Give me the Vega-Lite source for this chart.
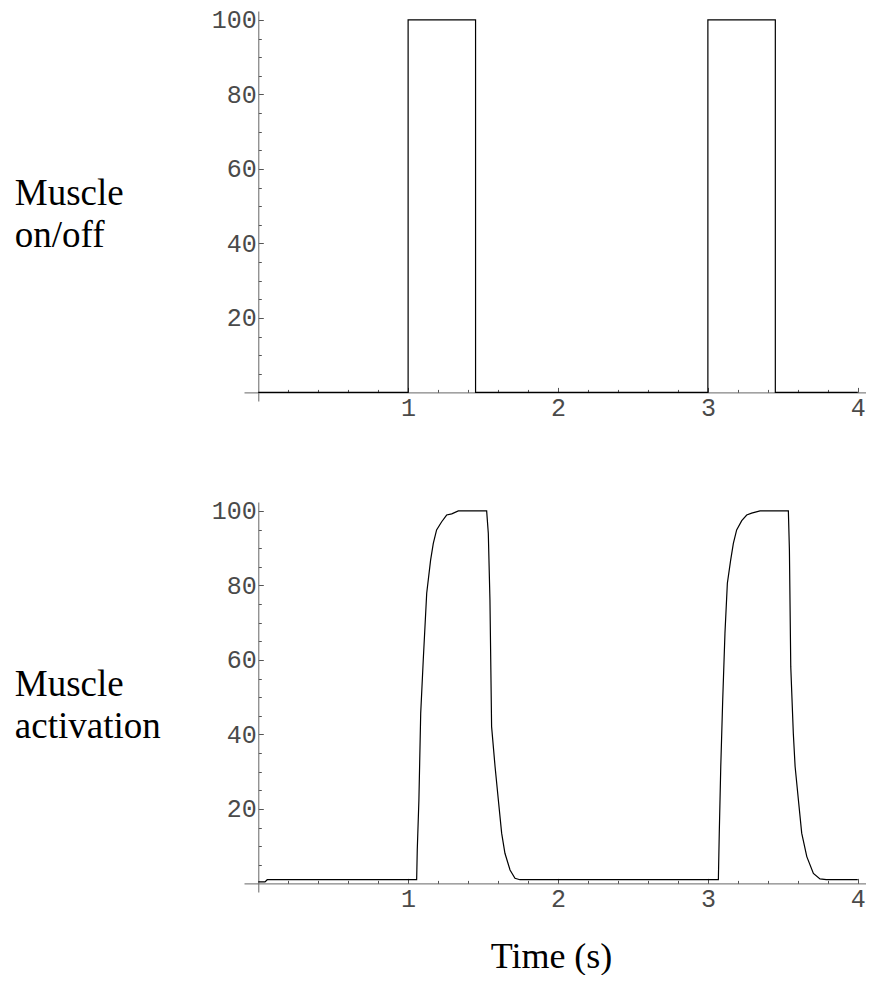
{
  "$schema": "https://vega.github.io/schema/vega-lite/v6.json",
  "background": "white",
  "padding": {"left": 14, "top": 7, "right": 0, "bottom": 0},
  "spacing": 101,
  "bounds": "flush",
  "config": {
    "view": {"stroke": null},
    "axis": {
      "grid": false,
      "domainColor": "#666666",
      "domainWidth": 1,
      "tickColor": "#555555",
      "tickWidth": 1,
      "labelFont": "Liberation Mono",
      "labelFontSize": 25,
      "labelColor": "#4a4a4a",
      "labelOverlap": false,
      "labelFlush": false,
      "labelBound": false
    }
  },
  "vconcat": [
    {
      "width": 622,
      "height": 390,
      "data": {
        "values": [
          {"i": 0, "t": 0, "v": 0},
          {"i": 1, "t": 1, "v": 0},
          {"i": 2, "t": 1, "v": 100},
          {"i": 3, "t": 1.45, "v": 100},
          {"i": 4, "t": 1.45, "v": 0},
          {"i": 5, "t": 3, "v": 0},
          {"i": 6, "t": 3, "v": 100},
          {"i": 7, "t": 3.45, "v": 100},
          {"i": 8, "t": 3.45, "v": 0},
          {"i": 9, "t": 4, "v": 0}
        ]
      },
      "mark": {"type": "line", "color": "black", "strokeWidth": 1.2},
      "encoding": {
        "order": {"field": "i", "type": "quantitative"},
        "x": {
          "field": "t", "type": "quantitative",
          "scale": {"domain": [-0.095, 4.055], "nice": false, "zero": false},
          "axis": {
            "title": null,
            "offset": -8.6,
            "values": [0.2,0.4,0.6,0.8,1,1.2,1.4,1.6,1.8,2,2.2,2.4,2.6,2.8,3,3.2,3.4,3.6,3.8,4],
            "labelExpr": "datum.value % 1 === 0 ? format(datum.value, 'd') : ''",
            "tickSize": {"condition": {"test": "datum.value % 1 === 0", "value": -5}, "value": -3},
            "labelPadding": 8
          }
        },
        "y": {
          "field": "v", "type": "quantitative",
          "scale": {"domain": [-2.3, 102.4], "nice": false, "zero": false},
          "axis": {
            "offset": -14.3,
            "values": [5,10,15,20,25,30,35,40,45,50,55,60,65,70,75,80,85,90,95,100],
            "labelExpr": "datum.value % 20 === 0 ? format(datum.value, 'd') : ''",
            "tickSize": {"condition": {"test": "datum.value % 20 === 0", "value": -5}, "value": -3},
            "labelPadding": 7,
            "title": ["Muscle", "on/off"],
            "titleAngle": 0,
            "titleAlign": "left",
            "titleBaseline": "alphabetic",
            "titleX": -244,
            "titleY": 193,
            "titleFont": "Liberation Serif",
            "titleFontSize": 37,
            "titleFontWeight": "normal",
            "titleLineHeight": 42.7,
            "titleColor": "black"
          }
        }
      }
    },
    {
      "width": 622,
      "height": 390,
      "data": {
        "values": [
          {"i": 0, "t": 0, "v": 0.4},
          {"i": 1, "t": 0.045, "v": 0.4},
          {"i": 2, "t": 0.06, "v": 1},
          {"i": 3, "t": 1.057, "v": 1},
          {"i": 4, "t": 1.061, "v": 9},
          {"i": 5, "t": 1.072, "v": 22.4},
          {"i": 6, "t": 1.084, "v": 45.7},
          {"i": 7, "t": 1.101, "v": 60},
          {"i": 8, "t": 1.124, "v": 77.9},
          {"i": 9, "t": 1.15, "v": 86.8},
          {"i": 10, "t": 1.168, "v": 91.3},
          {"i": 11, "t": 1.19, "v": 94.9},
          {"i": 12, "t": 1.224, "v": 97.1},
          {"i": 13, "t": 1.257, "v": 98.9},
          {"i": 14, "t": 1.291, "v": 99.2},
          {"i": 15, "t": 1.335, "v": 100},
          {"i": 16, "t": 1.524, "v": 100},
          {"i": 17, "t": 1.535, "v": 94},
          {"i": 18, "t": 1.546, "v": 76.1},
          {"i": 19, "t": 1.557, "v": 42.1},
          {"i": 20, "t": 1.58, "v": 31.4},
          {"i": 21, "t": 1.602, "v": 22.4},
          {"i": 22, "t": 1.624, "v": 13.5},
          {"i": 23, "t": 1.646, "v": 8.1},
          {"i": 24, "t": 1.68, "v": 3.6},
          {"i": 25, "t": 1.713, "v": 1.4},
          {"i": 26, "t": 1.746, "v": 1},
          {"i": 27, "t": 3.07, "v": 1},
          {"i": 28, "t": 3.076, "v": 13.5},
          {"i": 29, "t": 3.086, "v": 31.4},
          {"i": 30, "t": 3.099, "v": 49.3},
          {"i": 31, "t": 3.114, "v": 67.2},
          {"i": 32, "t": 3.13, "v": 80.6},
          {"i": 33, "t": 3.152, "v": 86.8},
          {"i": 34, "t": 3.17, "v": 91.3},
          {"i": 35, "t": 3.192, "v": 94.9},
          {"i": 36, "t": 3.226, "v": 97.4},
          {"i": 37, "t": 3.259, "v": 98.9},
          {"i": 38, "t": 3.292, "v": 99.4},
          {"i": 39, "t": 3.348, "v": 100},
          {"i": 40, "t": 3.537, "v": 100},
          {"i": 41, "t": 3.544, "v": 89.5},
          {"i": 42, "t": 3.553, "v": 58.2},
          {"i": 43, "t": 3.57, "v": 40.3},
          {"i": 44, "t": 3.582, "v": 31.4},
          {"i": 45, "t": 3.604, "v": 22.4},
          {"i": 46, "t": 3.626, "v": 13.5},
          {"i": 47, "t": 3.66, "v": 7.2},
          {"i": 48, "t": 3.704, "v": 2.7},
          {"i": 49, "t": 3.748, "v": 1.2},
          {"i": 50, "t": 3.79, "v": 1},
          {"i": 51, "t": 4, "v": 1}
        ]
      },
      "mark": {"type": "line", "color": "black", "strokeWidth": 1.2},
      "encoding": {
        "order": {"field": "i", "type": "quantitative"},
        "x": {
          "field": "t", "type": "quantitative",
          "scale": {"domain": [-0.095, 4.055], "nice": false, "zero": false},
          "axis": {
            "offset": -8.6,
            "values": [0.2,0.4,0.6,0.8,1,1.2,1.4,1.6,1.8,2,2.2,2.4,2.6,2.8,3,3.2,3.4,3.6,3.8,4],
            "labelExpr": "datum.value % 1 === 0 ? format(datum.value, 'd') : ''",
            "tickSize": {"condition": {"test": "datum.value % 1 === 0", "value": -5}, "value": -3},
            "labelPadding": 8,
            "title": "Time (s)",
            "titleFont": "Liberation Serif",
            "titleFontSize": 36,
            "titleFontWeight": "normal",
            "titleColor": "black",
            "titleAlign": "center",
            "titleBaseline": "alphabetic",
            "titleX": 307,
            "titleY": 84
          }
        },
        "y": {
          "field": "v", "type": "quantitative",
          "scale": {"domain": [-2.3, 102.4], "nice": false, "zero": false},
          "axis": {
            "offset": -14.3,
            "values": [5,10,15,20,25,30,35,40,45,50,55,60,65,70,75,80,85,90,95,100],
            "labelExpr": "datum.value % 20 === 0 ? format(datum.value, 'd') : ''",
            "tickSize": {"condition": {"test": "datum.value % 20 === 0", "value": -5}, "value": -3},
            "labelPadding": 7,
            "title": ["Muscle", "activation"],
            "titleAngle": 0,
            "titleAlign": "left",
            "titleBaseline": "alphabetic",
            "titleX": -244,
            "titleY": 193,
            "titleFont": "Liberation Serif",
            "titleFontSize": 37,
            "titleFontWeight": "normal",
            "titleLineHeight": 42.7,
            "titleColor": "black"
          }
        }
      }
    }
  ]
}
